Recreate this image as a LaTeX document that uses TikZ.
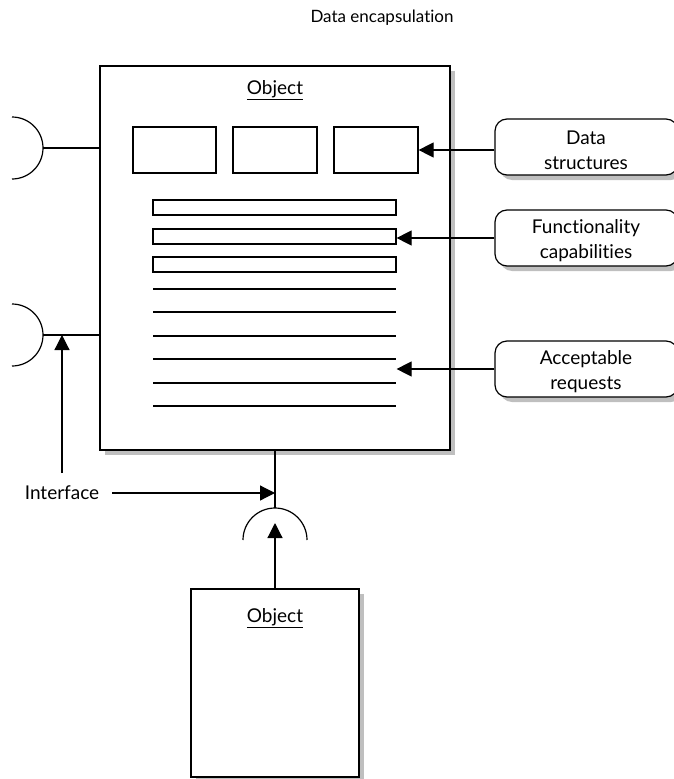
\documentclass[tikz,border=0pt]{standalone}
\usepackage{fontspec}
\setmainfont{Lato}[Ligatures={NoCommon}]
\usetikzlibrary{arrows.meta,fit,shadows}

\begin{document}
\begin{tikzpicture}[x=1pt, y=-1pt, >={Triangle[length=15pt,width=15pt]},
  line width=1.2pt, font=\fontsize{19}{25}\selectfont,
  objbox/.style={draw, inner sep=0pt, fill=white,
    drop shadow={shadow xshift=5pt, shadow yshift=-5pt, fill=black!25, opacity=1}},
  slot/.style={draw, inner sep=0pt},
  tag/.style={objbox, rounded corners=12pt},
  tagtext/.style={align=center, inner sep=0pt}]

\useasboundingbox (0,0) rectangle (674,779);

% Title
\node[font=\fontsize{17}{21}\selectfont] (title) at (382,18) {Data encapsulation};

% --- Main object ---
\node[objbox, fit={(100,66) (450,450)}] (obj) {};
\node (objlbl) at (275,90) {\underline{Object}};

% data slots
\node[slot, fit={(133,127) (216,173)}] (b1) {};
\node[slot, fit={(233,127) (317,173)}] (b2) {};
\node[slot, fit={(334,127) (418,173)}] (b3) {};

% function bars
\node[slot, fit={(153,200) (396,215)}] (bar1) {};
\node[slot, fit={(153,229) (396,244)}] (bar2) {};
\node[slot, fit={(153,257) (396,272)}] (bar3) {};

% request lines
\foreach \y in {289,312,336,359,383,406}
  \draw (153,\y) -- (396,\y);

% --- Tags on the right ---
\node[tag, fit={(495,119) (678,175)}] (ds) {};
\node[tag, fit={(495,210) (678,266)}] (fc) {};
\node[tag, fit={(495,341) (678,397)}] (ar) {};
\node[tagtext] (dstext) at (586,150) {Data\\structures};
\node[tagtext] (fctext) at (586,241) {Functionality\\capabilities};
\node[tagtext] (artext) at (586,372) {Acceptable\\requests};

\draw[->] (ds.west |- b3.east) -- (b3.east);
\draw[->] (fc.west) -- (fc.west -| bar2.east);
\draw[->] (ar.west) -- (ar.west -| bar2.east);

% --- Interfaces ---
\coordinate (sockA) at (43,148);
\coordinate (sockB) at (43,335);
\coordinate (sockC) at (275,508);
\coordinate (plug) at (275,523);

\draw (12,117) arc[start angle=-90, end angle=90, radius=31];
\draw (12,304) arc[start angle=-90, end angle=90, radius=31];
\draw (243,540) arc[start angle=180, end angle=360, radius=32];

\draw (sockA) -- (sockA -| obj.west);
\draw (sockB) -- (sockB -| obj.west);
\draw (obj.south) -- (sockC);

\node[inner sep=3pt, outer sep=10pt] (iface) at (62,493) {Interface};
\draw[->] (iface.north) -- (iface.north |- sockB);
\draw[->] (iface.east) -- (iface.east -| sockC);

% --- Client object ---
\node[objbox, fit={(191,589) (359,777)}] (obj2) {};
\node (obj2lbl) at (275,618) {\underline{Object}};
\draw[->] (obj2.north) -- (plug);

\end{tikzpicture}
\end{document}
